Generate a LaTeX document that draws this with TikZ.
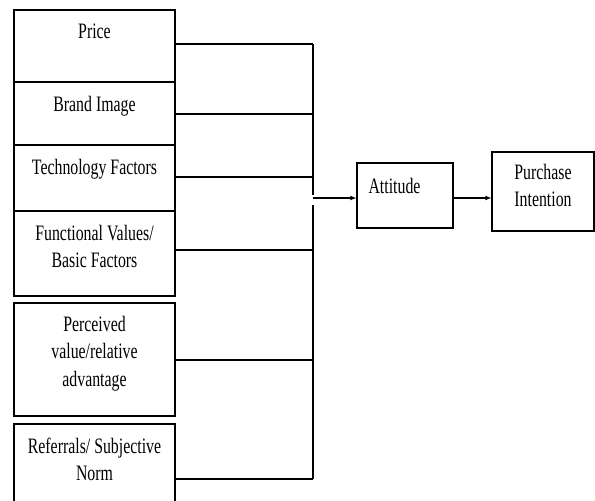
\documentclass[tikz,border=0pt]{standalone}
\usepackage{fontspec}
\setmainfont[FakeStretch=0.72]{Liberation Serif}
\usetikzlibrary{shapes,arrows}

\begin{document}
\begin{tikzpicture}[x=1pt, y=-1pt, line width=1.1pt, >=latex,
  box/.style={draw, rectangle, inner sep=0pt, minimum width=161pt},
  txt/.style={inner sep=0pt, align=center, anchor=north, font=\fontsize{22}{27.5}\selectfont}]

\useasboundingbox (0,0) rectangle (595,501);

% factor boxes
\node[box, minimum height=72pt]  (price) at (94.5, 46) {};
\node[box, minimum height=63pt]  (brand) at (94.5, 113.5) {};
\node[box, minimum height=66pt]  (tech)  at (94.5, 178) {};
\node[box, minimum height=85pt]  (func)  at (94.5, 253.5) {};
\node[box, minimum height=113pt] (perc)  at (94.5, 359.5) {};
\node[box, minimum height=91pt]  (refer) at (94.5, 469.5) {};

\node[txt] (priceT) at ([yshift=-14pt]price.north) {Price};
\node[txt] (brandT) at ([yshift=-14pt]brand.north) {Brand Image};
\node[txt] (techT)  at ([yshift=-14pt]tech.north)  {Technology Factors};
\node[txt] (funcT)  at ([yshift=-14pt]func.north)  {Functional Values/\\Basic Factors};
\node[txt] (percT)  at ([yshift=-13pt]perc.north)  {Perceived\\value/relative\\advantage};
\node[txt] (referT) at ([yshift=-14pt]refer.north) {Referrals/ Subjective\\Norm};

% attitude and intention
\node[draw, rectangle, inner sep=0pt, minimum width=96pt, minimum height=65pt] (att) at (405, 195.5) {};
\node[txt, anchor=base west] (attT) at (368, 193) {Attitude};
\node[draw, rectangle, inner sep=0pt, minimum width=102pt, minimum height=79pt] (pi) at (543, 191.5) {};
\node[txt] (piT) at ([yshift=-12pt]pi.north) {Purchase\\Intention};

% bus points
\coordinate (b1) at (313, 44);
\coordinate (b2) at (313, 114);
\coordinate (b3) at (313, 177);
\coordinate (b4) at (313, 250);
\coordinate (b5) at (313, 360);
\coordinate (b6) at (313, 479);
\coordinate (g1) at (313, 195);
\coordinate (g2) at (313, 205);
\coordinate (bout) at (313, 198);

% lines
\draw (b1 -| price.east) -- (b1);
\draw (b2 -| brand.east) -- (b2);
\draw (b3 -| tech.east)  -- (b3);
\draw (b4 -| func.east)  -- (b4);
\draw (b5 -| perc.east)  -- (b5);
\draw (b6 -| refer.east) -- (b6);
\draw (b1) -- (g1);
\draw (g2) -- (b6);

% arrows
\draw[->] (bout) -- (bout -| att.west);
\draw[->] (bout -| att.east) -- (bout -| pi.west);

\end{tikzpicture}
\end{document}
